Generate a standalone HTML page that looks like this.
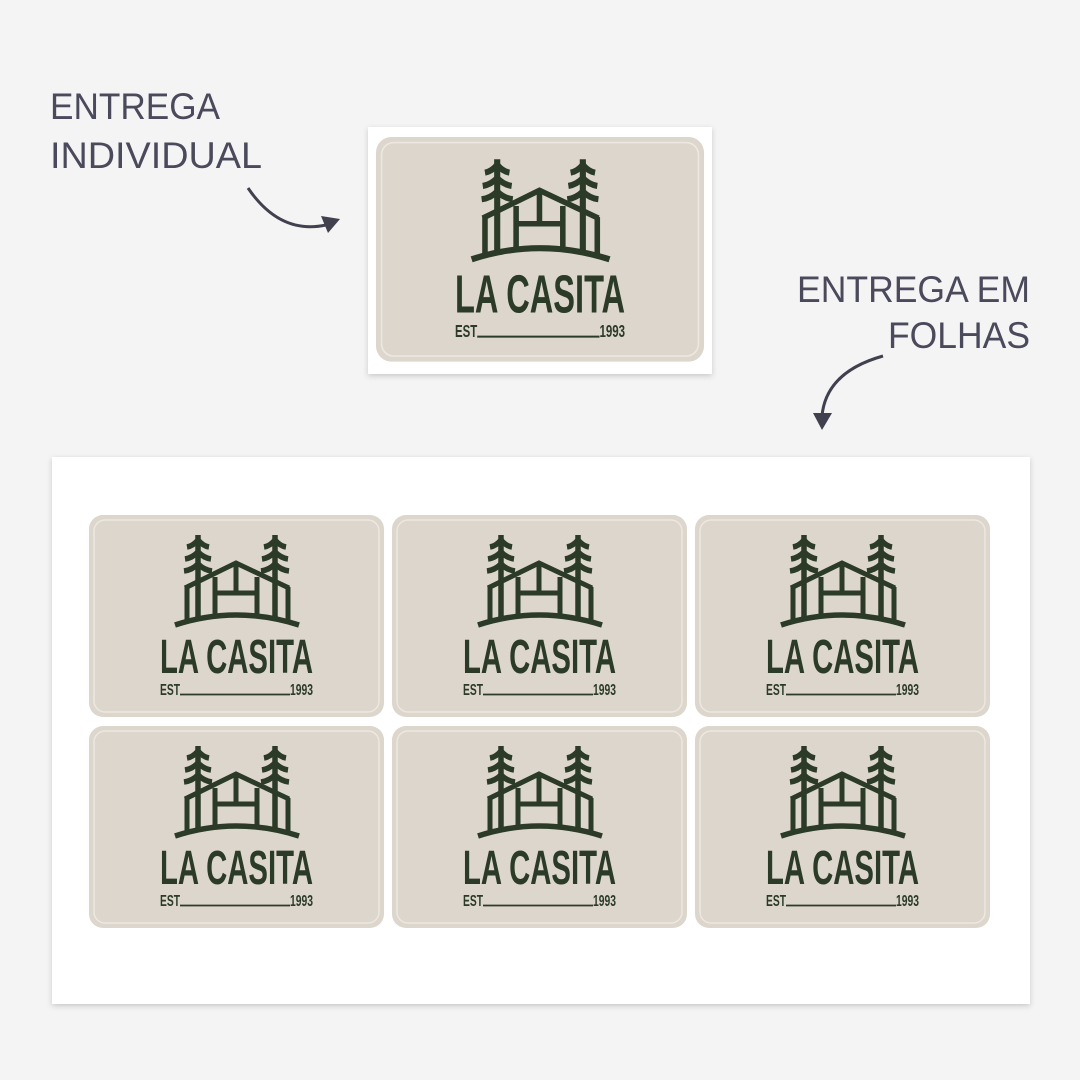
<!DOCTYPE html>
<html><head><meta charset="utf-8"><style>
html,body{margin:0;padding:0;background:#f4f4f4;}
svg{display:block}
</style></head><body>
<svg width="1080" height="1080" viewBox="0 0 1080 1080" xmlns="http://www.w3.org/2000/svg">
<defs>
<filter id="sh" x="-5%" y="-5%" width="110%" height="110%"><feDropShadow dx="0" dy="2" stdDeviation="3" flood-color="#000" flood-opacity="0.18"/></filter>
<g id="logo">
  <rect x="0" y="0" width="295" height="202" rx="14" fill="#dcd6cc"/>
  <rect x="5" y="5" width="285" height="192" rx="11" fill="#ddd6cd" stroke="#ece8e1" stroke-width="1.5"/>
  <g fill="none" stroke="#2b3b27" stroke-width="5" stroke-linejoin="miter">
    <g id="tree">
      <line x1="109" y1="20" x2="109" y2="104" stroke-width="5.5"/>
      <path d="M98,32 Q104,31 109,25 Q114,31 120,32" stroke-width="5.5"/>
      <path d="M96,44 Q103,43 109,37 Q115,43 122,44" stroke-width="5.5"/>
      <path d="M95,56 Q103,55 109,49 Q115,55 123,56" stroke-width="5.5"/>
    </g>
    <use href="#tree" transform="translate(77,0)"/>
    <path d="M96,73 L147,48 L200,73"/>
    <line x1="98" y1="72" x2="98" y2="106"/>
    <line x1="199" y1="72" x2="199" y2="106"/>
    <line x1="126" y1="62" x2="126" y2="101"/>
    <line x1="168" y1="62" x2="168" y2="101"/>
    <line x1="147" y1="48" x2="147" y2="77"/>
    <line x1="126" y1="78" x2="168" y2="78"/>
    <path d="M86,110 Q147,90 210,110" stroke-width="5.5"/>
  </g>
  <text x="71" y="158" font-family="'Liberation Sans Narrow','Liberation Sans',sans-serif" font-weight="bold" font-size="48" fill="#2b3b27" textLength="153" lengthAdjust="spacingAndGlyphs">LA CASITA</text>
  <text x="71" y="180" font-family="'Liberation Sans Narrow','Liberation Sans',sans-serif" font-weight="bold" font-size="16" fill="#2b3b27" textLength="20" lengthAdjust="spacingAndGlyphs">EST</text>
  <line x1="91" y1="179.5" x2="201" y2="179.5" stroke="#2b3b27" stroke-width="1.8"/>
  <text x="201" y="180" font-family="'Liberation Sans Narrow','Liberation Sans',sans-serif" font-weight="bold" font-size="16" fill="#2b3b27" textLength="23" lengthAdjust="spacingAndGlyphs">1993</text>
</g>
</defs>
<rect width="1080" height="1080" fill="#f4f4f4"/>
<g font-family="'Liberation Sans',sans-serif" font-size="37" fill="#4a4a5c">
  <text x="50" y="119" textLength="170" lengthAdjust="spacingAndGlyphs">ENTREGA</text>
  <text x="50" y="168" textLength="212" lengthAdjust="spacingAndGlyphs">INDIVIDUAL</text>
  <text x="797" y="302" textLength="233" lengthAdjust="spacingAndGlyphs">ENTREGA EM</text>
  <text x="888" y="348" textLength="142" lengthAdjust="spacingAndGlyphs">FOLHAS</text>
</g>
<path d="M248,188 Q280,235 326,225" fill="none" stroke="#40404f" stroke-width="3"/>
<polygon points="340,219 321,216 328,233" fill="#40404f"/>
<path d="M883,356 Q826,372 822,416" fill="none" stroke="#40404f" stroke-width="3"/>
<polygon points="813,413 832,413 822,430" fill="#40404f"/>
<rect x="368" y="127" width="344" height="247" fill="#fff" filter="url(#sh)"/>
<use href="#logo" transform="translate(376,137) scale(1.112)"/>
<rect x="52" y="457" width="978" height="547" fill="#fff" filter="url(#sh)"/>
<use href="#logo" transform="translate(89,515)"/>
<use href="#logo" transform="translate(392,515)"/>
<use href="#logo" transform="translate(695,515)"/>
<use href="#logo" transform="translate(89,726)"/>
<use href="#logo" transform="translate(392,726)"/>
<use href="#logo" transform="translate(695,726)"/>
</svg>
</body></html>
